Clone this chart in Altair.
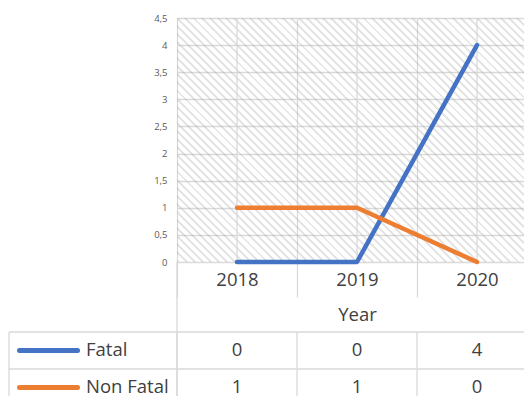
import altair as alt
import pandas as pd

# ---- data ----
years = ["2018", "2019", "2020"]
series_names = ["Fatal", "Non Fatal"]
fatal = [0, 0, 4]
non_fatal = [1, 1, 0]
y_ticks = [0, 0.5, 1, 1.5, 2, 2.5, 3, 3.5, 4, 4.5]
colors = ["#4472C4", "#ED7D31"]

rows = []
for name, vals in zip(series_names, [fatal, non_fatal]):
    for yr, v in zip(years, vals):
        rows.append({"year": yr, "series": name, "value": v})
df = pd.DataFrame(rows)
years_df = pd.DataFrame({"year": years})
series_df = pd.DataFrame({"series": series_names})
one = alt.Data(values=[{"k": 1}])

# ---- styling ----
VIEW_W = 347          # visible part of the plot (the reference is cropped on the right)
PLOT_W, H = 360, 244  # full plot extent used by the x scale
FONT = "Open Sans"
GRID = "#d9d9d9"
TXT = "#404040"
GW = 1.3

# diagonal hatch made from a striped linear gradient
N = 73
frac = 0.36
stripe = "rgba(170,170,170,0.30)"
clear = "rgba(255,255,255,0)"
stops = []
for i in range(N):
    a = i / N
    b = (i + frac) / N
    c = (i + 1) / N
    stops += [
        alt.GradientStop(offset=a, color=stripe),
        alt.GradientStop(offset=b, color=stripe),
        alt.GradientStop(offset=b, color=clear),
        alt.GradientStop(offset=c, color=clear),
    ]
r = H / VIEW_W
k = (1 + r) / (1 + r * r)
hatch = alt.LinearGradient(gradient="linear", stops=stops,
                           x1=0, y1=1, x2=k, y2=1 - k * r)

x_scale = alt.Scale(domain=years, range=[0, PLOT_W], paddingInner=0, paddingOuter=0)
row_scale = alt.Scale(domain=series_names, range=[314, 388],
                      paddingInner=0, paddingOuter=0)
color_scale = alt.Scale(domain=series_names, range=colors)

x_axis = alt.Axis(
    title="Year", tickBand="extent", grid=True, gridColor=GRID, gridWidth=GW,
    ticks=True, tickColor=GRID, tickWidth=GW, tickSize=35, domain=False,
    labelFont=FONT, labelFontSize=18.5, labelColor=TXT, labelPadding=-27,
    labelAngle=0, titleFont=FONT, titleFontSize=18.5, titleFontWeight="normal",
    titleColor=TXT, titlePadding=8, titleX=180,
)
y_axis = alt.Axis(
    values=y_ticks, labelExpr="replace(toString(datum.value), '.', ',')",
    grid=True, gridColor=GRID, gridWidth=GW, domain=False, ticks=False,
    labelFont=FONT, labelFontSize=9.5, labelColor="#595959", labelPadding=10,
    title=None,
)
x_enc = alt.X("year:N", scale=x_scale, axis=x_axis, sort=years)

bg = alt.Chart(one).mark_rect(fill=hatch, strokeWidth=0).encode(
    x=alt.value(0), x2=alt.value("width"), y=alt.value(0), y2=alt.value("height")
)

vgrid = alt.Chart(years_df).mark_rule(color=GRID, strokeWidth=GW).encode(x=x_enc)

lines = alt.Chart(df).mark_line(strokeWidth=4.5, strokeCap="round", strokeJoin="round").encode(
    x=x_enc,
    y=alt.Y("value:Q", scale=alt.Scale(domain=[0, 4.5], nice=False), axis=y_axis),
    color=alt.Color("series:N", scale=color_scale, legend=None),
)

h_lines = alt.Chart(series_df).mark_rule(color=GRID, strokeWidth=GW).encode(
    y=alt.Y("series:N", scale=row_scale, axis=None, bandPosition=0),
    x=alt.value(-168), x2=alt.value("width"),
)

v_lines = alt.Chart(years_df).mark_rule(color=GRID, strokeWidth=GW).encode(
    x=alt.X("year:N", scale=x_scale, axis=x_axis, sort=years, bandPosition=0),
    y=alt.value(314), y2=alt.value(392),
)

left_line = alt.Chart(one).mark_rule(color=GRID, strokeWidth=GW).encode(
    x=alt.value(0), y=alt.value(H), y2=alt.value(392)
)
left_border = alt.Chart(one).mark_rule(color=GRID, strokeWidth=GW).encode(
    x=alt.value(-168), y=alt.value(314), y2=alt.value(392)
)

keys = alt.Chart(series_df).mark_rule(strokeWidth=5, strokeCap="round").encode(
    x=alt.value(-157.5), x2=alt.value(-99.5),
    y=alt.Y("series:N", scale=row_scale, axis=None),
    color=alt.Color("series:N", scale=color_scale, legend=None),
)

row_labels = alt.Chart(series_df).mark_text(
    font=FONT, fontSize=18.5, color=TXT, align="left", dy=-1
).encode(
    x=alt.value(-91),
    y=alt.Y("series:N", scale=row_scale, axis=None),
    text="series:N",
)

cells = alt.Chart(df).mark_text(font=FONT, fontSize=18.5, color=TXT, dy=-1).encode(
    x=x_enc,
    y=alt.Y("series:N", scale=row_scale, axis=None),
    text="value:Q",
)

chart = alt.layer(
    bg, vgrid, lines, h_lines, v_lines, left_line, left_border, keys, row_labels, cells
).resolve_scale(y="independent").properties(
    width=VIEW_W, height=H,
    autosize=alt.AutoSizeParams(type="none"),
    padding={"left": 169, "top": 10, "right": 0, "bottom": 134},
).configure_view(stroke=None)

chart.save("out.html", embed_options={"renderer": "svg", "actions": False})
